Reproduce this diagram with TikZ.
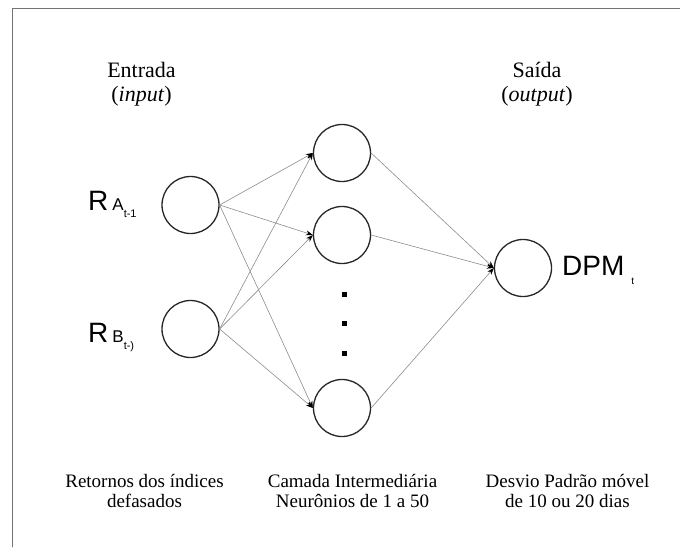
\documentclass[tikz,border=0pt]{standalone}
\usepackage{fontspec}
\setmainfont{Liberation Serif}
\newfontfamily\arialfont{Liberation Sans}
\usetikzlibrary{arrows.meta}

\tikzset{
  neuron/.style={circle, draw=black!85, line width=1.3pt, minimum size=57pt, inner sep=0pt},
  link/.style={draw=black!45, line width=0.6pt, -{Stealth[black,length=7pt,width=5pt]}},
  sym/.style={font=\arialfont\fontsize{28}{28}\selectfont, inner sep=0pt},
  caption/.style={align=center, font=\fontsize{19}{19.5}\selectfont, inner sep=0pt},
  title/.style={align=center, font=\fontsize{22}{24}\selectfont, inner sep=0pt},
}

\begin{document}
\begin{tikzpicture}[x=1pt, y=-1pt, line cap=round, line join=round]
  \useasboundingbox (0,0) rectangle (680,547);
  % 枠線(上と左)
  \draw[black!55, line width=0.8pt] (12,547) -- (12,8) -- (680,8);

  % --- ニューロン ---
  \node[neuron] (inA) at (190.5,205) {};
  \node[neuron] (inB) at (190.5,329) {};
  \node[neuron] (h1) at (342,153) {};
  \node[neuron] (h2) at (342,235) {};
  \node[neuron] (hn) at (342,408) {};
  \node[neuron] (out) at (523,268) {};
  % 省略の点
  \foreach \y in {294,323,353}
    \fill (344,\y) +(-2.5,-2.5) rectangle +(2.5,2.5);

  % --- 結合 ---
  \foreach \i in {inA,inB}
    \foreach \h in {h1,h2,hn}
      \draw[link] (\i.east) -- (\h.west);
  \foreach \h in {h1,h2,hn}
    \draw[link] (\h.east) -- (out.west);

  % --- 記号ラベル ---
  \node[sym, anchor=base west] (ra) at (88,210)
    {R\hspace{4pt}{\fontsize{17}{17}\selectfont A\raisebox{-7pt}{\fontsize{11}{11}\selectfont t-1}}};
  \node[sym, anchor=base west] (rb) at (88,342)
    {R\hspace{4pt}{\fontsize{17}{17}\selectfont B\raisebox{-7pt}{\fontsize{11}{11}\selectfont t-)}}};
  \node[sym, anchor=base west] (dpm) at (562,275)
    {DPM\hspace{7pt}\raisebox{-9pt}{\fontsize{10}{10}\selectfont t}};

  % --- 見出し(最終行のベースライン) ---
  \node[title, anchor=base] (entrada) at (141.5,101) {Entrada\\(\textit{input})};
  \node[title, anchor=base] (saida) at (537,101) {Saída\\(\textit{output})};
  \node[caption, anchor=base] (ret) at (144.5,507) {Retornos dos índices\\defasados};
  \node[caption, anchor=base] (camada) at (352.5,507) {Camada Intermediária\\Neurônios de 1 a 50};
  \node[caption, anchor=base] (desvio) at (567.5,507) {Desvio Padrão móvel\\de 10 ou 20 dias};
\end{tikzpicture}
\end{document}
